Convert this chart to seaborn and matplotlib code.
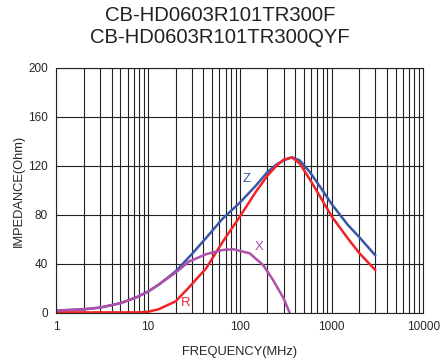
import matplotlib.pyplot as plt
import seaborn as sns
from matplotlib.ticker import LogLocator, FixedLocator, NullFormatter

# impedance curves (frequency in MHz, values in Ohm)
z_freq = [1, 2, 3, 5, 7.5, 10, 13, 20, 30, 45, 65, 100, 150, 200, 250, 300, 370,
          450, 580, 750, 1000, 1500, 2000, 3000]
z_vals = [2, 3, 4.4, 8, 12.8, 17.5, 23, 34, 48, 63, 77, 90, 104, 115, 121, 124.5, 127,
          124.5, 115, 103, 89, 72, 62, 47]
r_freq = [1, 3, 5, 8, 10, 13, 20, 28, 43, 65, 100, 150, 200, 250, 300, 370,
          450, 580, 750, 1000, 1500, 2000, 3000]
r_vals = [0.5, 0.5, 0.5, 0.5, 1, 3, 9.5, 21, 36.5, 58, 78.6, 99, 112, 120, 125, 127,
          122, 109, 95, 79, 61, 49, 35]
x_freq = [1, 2, 3, 5, 7.5, 10, 13, 20, 28, 43, 65, 85, 128, 180, 230, 300, 350]
x_vals = [1.9, 3, 4.4, 8, 12.8, 17.5, 23, 33, 42, 48, 51.4, 52, 48.7, 39, 27, 12, 0]

sns.set_style("white")
plt.rcParams['font.family'] = ['Liberation Sans', 'DejaVu Sans']

fig, ax = plt.subplots(figsize=(4.4, 3.61), dpi=100)

blue = "#3a56a8"
red = "#f02428"
purple = "#b050aa"

sns.lineplot(x=z_freq, y=z_vals, ax=ax, color=blue, lw=1.8)
sns.lineplot(x=r_freq, y=r_vals, ax=ax, color=red, lw=1.8)
sns.lineplot(x=x_freq, y=x_vals, ax=ax, color=purple, lw=1.8)

ax.set_xscale("log")
ax.set_xlim(1, 10000)
ax.set_ylim(0, 200)
ax.yaxis.set_major_locator(FixedLocator([0, 40, 80, 120, 160, 200]))
ax.xaxis.set_minor_locator(LogLocator(base=10, subs=range(2, 10), numticks=50))
ax.xaxis.set_minor_formatter(NullFormatter())
ax.set_xticks([1, 10, 100, 1000, 10000])
ax.set_xticklabels(["1", "10", "100", "1000", "10000"])

ax.grid(True, which="major", axis="both", color="#222222", lw=0.8)
ax.grid(True, which="minor", axis="x", color="#222222", lw=0.8)
ax.tick_params(axis="both", which="both", length=0, labelsize=8.5, pad=6)
for s in ax.spines.values():
    s.set_color("#222222")
    s.set_linewidth(0.8)

ax.set_xlabel("FREQUENCY(MHz)", fontsize=9.3, labelpad=9)
ax.set_ylabel("IMPEDANCE(Ohm)", fontsize=9.3, labelpad=2)

ax.text(108, 107, "Z", color=blue, fontsize=9.5)
ax.text(146, 51, "X", color=purple, fontsize=9.5)
ax.text(22.8, 5.7, "R", color=red, fontsize=9.5)

fig.suptitle("CB-HD0603R101TR300F\nCB-HD0603R101TR300QYF", fontsize=14.6,
             y=0.982, color="#222222", linespacing=1.2)

plt.subplots_adjust(left=0.128, right=0.962, top=0.812, bottom=0.133)
plt.savefig("out.png", dpi=100)
